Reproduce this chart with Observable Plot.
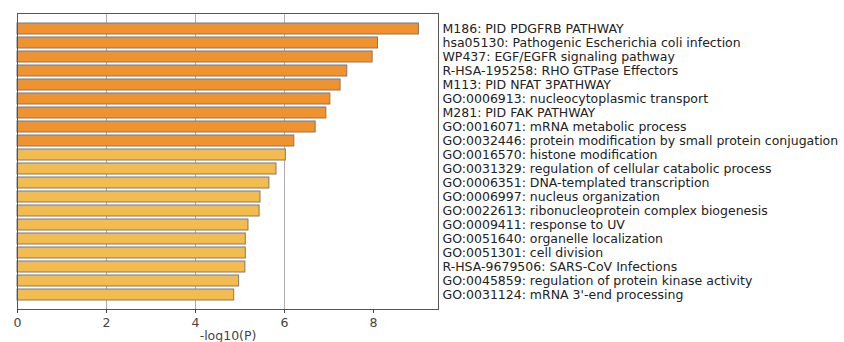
<!DOCTYPE html>
<html>
<head>
<meta charset="utf-8">
<script src="https://cdn.jsdelivr.net/npm/d3@7"></script>
<script src="https://cdn.jsdelivr.net/npm/@observablehq/plot@0.6"></script>
<style>
  html, body { margin: 0; padding: 0; background: #fff; }
  #chart svg { display: block; }
</style>
</head>
<body>
<div id="chart"></div>
<script>
const terms = [
  "M186: PID PDGFRB PATHWAY",
  "hsa05130: Pathogenic Escherichia coli infection",
  "WP437: EGF/EGFR signaling pathway",
  "R-HSA-195258: RHO GTPase Effectors",
  "M113: PID NFAT 3PATHWAY",
  "GO:0006913: nucleocytoplasmic transport",
  "M281: PID FAK PATHWAY",
  "GO:0016071: mRNA metabolic process",
  "GO:0032446: protein modification by small protein conjugation",
  "GO:0016570: histone modification",
  "GO:0031329: regulation of cellular catabolic process",
  "GO:0006351: DNA-templated transcription",
  "GO:0006997: nucleus organization",
  "GO:0022613: ribonucleoprotein complex biogenesis",
  "GO:0009411: response to UV",
  "GO:0051640: organelle localization",
  "GO:0051301: cell division",
  "R-HSA-9679506: SARS-CoV Infections",
  "GO:0045859: regulation of protein kinase activity",
  "GO:0031124: mRNA 3'-end processing"
];
const logP = [9.02, 8.10, 7.98, 7.41, 7.26, 7.03, 6.94, 6.70, 6.22, 6.03,
              5.82, 5.66, 5.46, 5.44, 5.19, 5.13, 5.13, 5.12, 4.98, 4.87];
const groups = ["top","top","top","top","top","top","top","top","top",
                "rest","rest","rest","rest","rest","rest","rest","rest","rest","rest","rest"];
const xTicks = [0, 2, 4, 6, 8];
const gridTicks = [2, 4, 6];

const data = terms.map((t, i) => ({term: t, value: logP[i], group: groups[i]}));

const chart = Plot.plot({
  width: 844,
  height: 342,
  marginLeft: 17,
  marginRight: 406,
  marginTop: 13,
  marginBottom: 33,
  style: {fontFamily: "DejaVu Sans", fontSize: "12px", color: "#222", background: "#fff"},
  x: {domain: [0, 9.46]},
  y: {domain: terms, paddingInner: 0.24, paddingOuter: 0.62},
  color: {domain: ["top", "rest"], range: ["#EF9230", "#F3BC50"]},
  marks: [
    Plot.gridX(gridTicks, {stroke: "#999", strokeOpacity: 0.8, strokeWidth: 1}),
    Plot.barX(data, {y: "term", x: "value", fill: "group", stroke: "#7a7a7a", strokeWidth: 1}),
    Plot.frame({stroke: "#555", strokeWidth: 1}),
    Plot.axisX({ticks: xTicks, tickSize: 4, tickPadding: 5, fontSize: 12.5, color: "#444",
                label: "-log10(P)", labelAnchor: "center", labelArrow: "none", labelOffset: 30}),
    Plot.axisY({anchor: "right", tickSize: 0, tickPadding: 4, fontSize: 12.5, color: "#222", label: null})
  ]
});
document.getElementById("chart").appendChild(chart);
</script>
</body>
</html>
